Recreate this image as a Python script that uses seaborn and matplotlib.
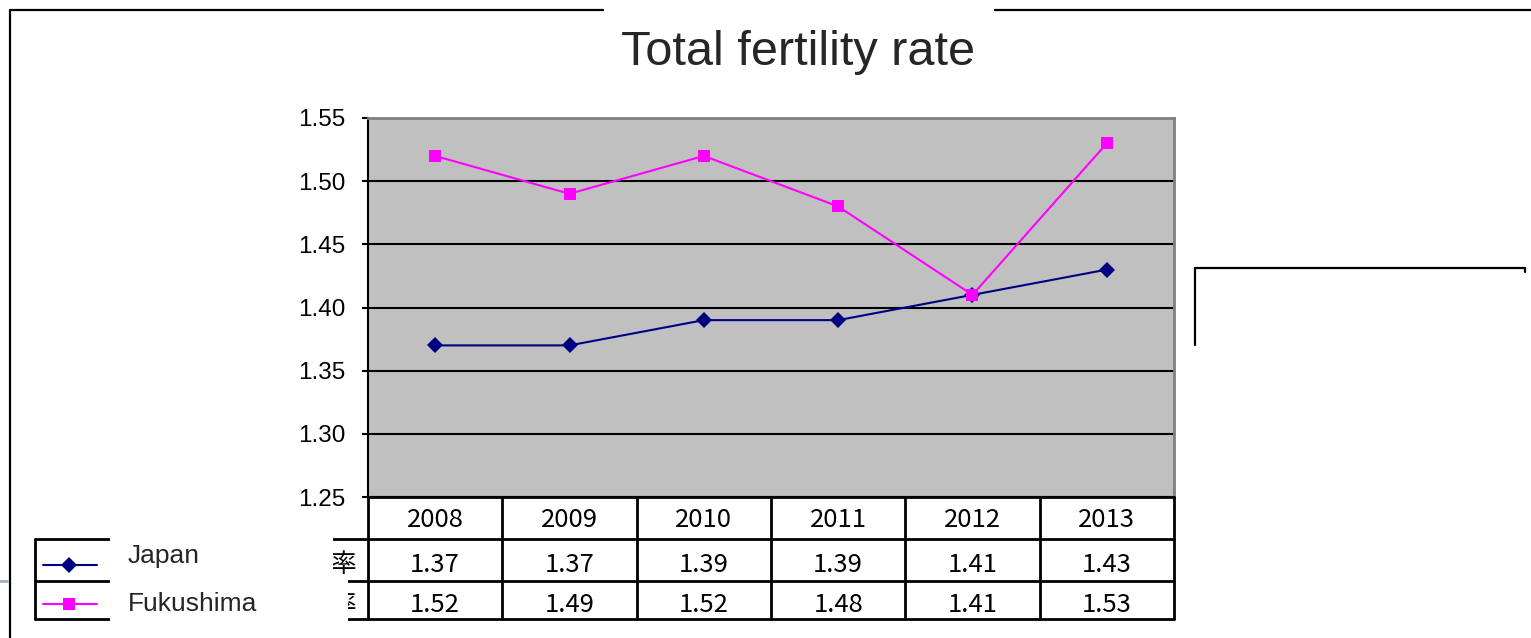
import pandas as pd
import matplotlib
matplotlib.use("Agg")
import matplotlib.pyplot as plt
from matplotlib import transforms
from matplotlib.patches import Rectangle
from matplotlib.lines import Line2D
import seaborn as sns

# datos
years = ["2008", "2009", "2010", "2011", "2012", "2013"]
japan = [1.37, 1.37, 1.39, 1.39, 1.41, 1.43]
fukushima = [1.52, 1.49, 1.52, 1.48, 1.41, 1.53]
series_names = ["Japan", "Fukushima"]
# solo se ve el final de las etiquetas de fila (el resto queda bajo la leyenda)
row_labels = ["率", "率"]
yticks = [1.25, 1.30, 1.35, 1.40, 1.45, 1.50, 1.55]
title = "Total fertility rate"

W, H = 1531, 638
sns.set_theme(style="white")
plt.rcParams["font.family"] = ["Liberation Sans", "Noto Sans CJK JP", "DejaVu Sans"]
TXT = "#262626"
TABLE_FONT = ["Noto Sans CJK JP", "DejaVu Sans"]
JP_MS, FK_MS = 8.5, 8


def fx(x):
    return x / W


def fy(y):
    return 1 - y / H


fig = plt.figure(figsize=(W / 100, H / 100), dpi=100)
ax = fig.add_axes([fx(368), fy(497), fx(1174) - fx(368), fy(118) - fy(497)])
ax.set_facecolor("#C0C0C0")

pos = list(range(len(years)))
df_jp = pd.DataFrame({"pos": pos, "value": japan})
df_fk = pd.DataFrame({"pos": pos, "value": fukushima})
sns.lineplot(data=df_jp, x="pos", y="value", color="#000080", marker="D",
             markersize=JP_MS, markeredgewidth=0, linewidth=1.5, ax=ax, zorder=3)
sns.lineplot(data=df_fk, x="pos", y="value", color="#FF00FF", marker="s",
             markersize=FK_MS, markeredgewidth=0, linewidth=1.5, ax=ax, zorder=3)

ax.set_xlim(-0.5, len(years) - 0.5)
ax.set_ylim(yticks[0], yticks[-1])
ax.set_xticks([])
ax.set_yticks(yticks)
ax.set_yticklabels([f"{v:.2f}" for v in yticks])
ax.set_xlabel("")
ax.set_ylabel("")
ax.yaxis.grid(True, color="black", linewidth=1.5)
ax.set_axisbelow(True)
ax.tick_params(axis="y", direction="out", length=4, width=1.5, color="black",
               labelsize=17.5, labelcolor="black", pad=12, left=True)
for s in ["top", "right"]:
    ax.spines[s].set_color("#808080")
    ax.spines[s].set_linewidth(2)
for s in ["left", "bottom"]:
    ax.spines[s].set_color("black")
    ax.spines[s].set_linewidth(1.5)

# tabla de datos
trans = transforms.blended_transform_factory(ax.transData, fig.transFigure)
row_edges = [497, 539, 581, 619]
baselines = [527, 572, 612]
x0, x1 = -0.5, len(years) - 0.5
for y in row_edges:
    fig.add_artist(Line2D([x0, x1], [fy(y), fy(y)], transform=trans, color="black", lw=2))
for i in range(len(years) + 1):
    fig.add_artist(Line2D([i - 0.5, i - 0.5], [fy(497), fy(619)], transform=trans,
                          color="black", lw=2))
rows = [years, [f"{v:.2f}" for v in japan], [f"{v:.2f}" for v in fukushima]]
for r, vals in enumerate(rows):
    for i, v in enumerate(vals):
        fig.text(i, fy(baselines[r]), v, transform=trans, ha="center", va="baseline",
                 fontsize=18.5, family=TABLE_FONT, color="black")

# encabezado de filas (tapado por la leyenda)
for y in row_edges[1:]:
    fig.add_artist(Line2D([fx(35), fx(368)], [fy(y), fy(y)], color="black", lw=2))
fig.add_artist(Line2D([fx(35), fx(35)], [fy(539), fy(619)], color="black", lw=2))
fig.add_artist(Rectangle((fx(110), fy(577)), fx(333) - fx(110), fy(528) - fy(577),
                         facecolor="white", edgecolor="none", zorder=5))
fig.add_artist(Rectangle((fx(110), fy(630)), fx(348) - fx(110), fy(577) - fy(630),
                         facecolor="white", edgecolor="none", zorder=5))
visible_from = [333, 348]
for r, lab in enumerate(row_labels):
    t = fig.text(fx(356), fy(baselines[r + 1]), lab, ha="right", va="baseline",
                 fontsize=18.5, family=TABLE_FONT, color="black")
    clip = Rectangle((fx(visible_from[r]), fy(row_edges[r + 2])),
                     fx(368) - fx(visible_from[r]), fy(row_edges[r + 1]) - fy(row_edges[r + 2]),
                     transform=fig.transFigure, facecolor="none", edgecolor="none")
    t.set_clip_path(clip)

# leyenda
fig.add_artist(Line2D([fx(43), fx(97)], [fy(565), fy(565)], color="#000080", lw=1.5, zorder=6))
fig.add_artist(Line2D([fx(69)], [fy(565)], color="#000080", marker="D", markersize=JP_MS,
                      markeredgewidth=0, zorder=6))
fig.add_artist(Line2D([fx(43), fx(97)], [fy(604), fy(604)], color="#FF00FF", lw=1.5, zorder=6))
fig.add_artist(Line2D([fx(69)], [fy(604)], color="#FF00FF", marker="s", markersize=FK_MS,
                      markeredgewidth=0, zorder=6))
fig.text(fx(128), fy(563), series_names[0], fontsize=19, color=TXT, va="baseline", zorder=7)
fig.text(fx(128), fy(611), series_names[1], fontsize=19, color=TXT, va="baseline", zorder=7)

# titulo
fig.text(fx(798), fy(65), title, ha="center", va="baseline", fontsize=35, color=TXT)

# marcos
frame = [((10, 10), (603, 10)), ((995, 10), (1531, 10)), ((10, 10), (10, 638)),
         ((1195, 268), (1525, 268)), ((1195, 268), (1195, 345)), ((1525, 268), (1525, 272))]
for (a, b), (c, d) in frame:
    fig.add_artist(Line2D([fx(a), fx(c)], [fy(b), fy(d)], color="black", lw=1.6))
fig.add_artist(Line2D([fx(0), fx(7)], [fy(581), fy(581)], color="#9BB0C8", lw=2))

fig.savefig("out.png", dpi=100, facecolor="white")
